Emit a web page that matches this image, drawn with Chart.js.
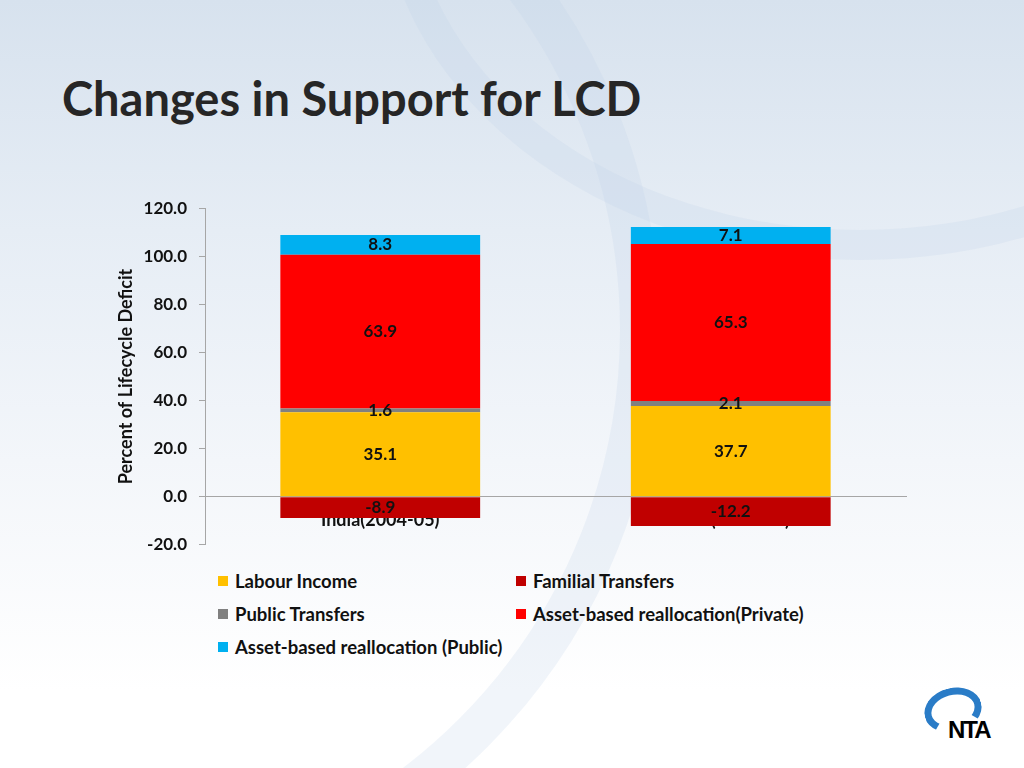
<!DOCTYPE html>
<html lang="en">
<head>
    <meta charset="UTF-8">
    <title>Changes in Support for LCD</title>
    <script src="https://cdn.jsdelivr.net/npm/chart.js"></script>
    <style>
        html, body {
            margin: 0;
            padding: 0;
        }
        body {
            width: 1024px;
            height: 768px;
            position: relative;
            overflow: hidden;
            font-family: Lato, "Open Sans", sans-serif;
            background: linear-gradient(to bottom, #d7e2ee 0%, #e6edf5 30%, #f3f6fa 60%, #ffffff 90%);
        }
        .swoosh {
            position: absolute;
            border-radius: 50%;
            border: 40px solid rgba(190, 210, 230, 0.22);
        }
        h1 {
            position: absolute;
            left: 62px;
            top: 70px;
            margin: 0;
            font-size: 47px;
            font-weight: bold;
            color: #262626;
        }
        #chartCanvas {
            position: absolute;
            left: 100px;
            top: 186px;
        }
        .legend {
            position: absolute;
            left: 218px;
            top: 570px;
            width: 640px;
            display: grid;
            grid-template-columns: 298px 340px;
            row-gap: 11px;
        }
        .legend-item {
            display: flex;
            align-items: center;
            height: 22px;
            font-size: 18.5px;
            font-weight: bold;
            color: #111;
            white-space: nowrap;
        }
        .legend-box {
            width: 10px;
            height: 10px;
            margin-right: 7px;
        }
        .logo {
            position: absolute;
            left: 918px;
            top: 686px;
            width: 70px;
            height: 60px;
        }
        .logo .loop {
            position: absolute;
            left: 6px;
            top: 2px;
            width: 44px;
            height: 30px;
            border: 7px solid #2a7cc7;
            border-bottom-color: transparent;
            border-radius: 50%;
            transform: rotate(-15deg);
        }
        .logo .txt {
            position: absolute;
            left: 30px;
            top: 30px;
            font-family: "Liberation Sans", sans-serif;
            font-size: 24px;
            font-weight: bold;
            letter-spacing: -2px;
            color: #000;
        }
    </style>
</head>
<body>
    <div class="swoosh" style="left:-520px; top:-260px; width:1100px; height:1100px;"></div>
    <div class="swoosh" style="left:380px; top:-500px; width:900px; height:700px; border-width:30px;"></div>

    <h1>Changes in Support for LCD</h1>
    <canvas id="chartCanvas" width="820" height="381"></canvas>
    <div class="legend" id="legend"></div>
    <div class="logo"><div class="loop"></div><div class="txt">NTA</div></div>

<script>
// データ
const categories = ['India(2004-05)', 'India(2011-12)'];
const seriesNames = [
    'Labour Income',
    'Familial Transfers',
    'Public Transfers',
    'Asset-based reallocation(Private)',
    'Asset-based reallocation (Public)'
];
const labourIncome = [35.1, 37.7];
const familialTransfers = [-8.9, -12.2];
const publicTransfers = [1.6, 2.1];
const assetPrivate = [63.9, 65.3];
const assetPublic = [8.3, 7.1];
const seriesColors = ['#FFC000', '#C00000', '#808080', '#FF0000', '#00B0F0'];
const yTicks = [-20, 0, 20, 40, 60, 80, 100, 120];

const seriesValues = [labourIncome, familialTransfers, publicTransfers, assetPrivate, assetPublic];
const FONT = 'Lato, "Open Sans", sans-serif';

// 棒の中央に値を描くプラグイン
const valueLabels = {
    id: 'valueLabels',
    afterDatasetsDraw(chart) {
        const ctx = chart.ctx;
        ctx.save();
        ctx.font = 'bold 17px ' + FONT;
        ctx.fillStyle = '#111';
        ctx.textAlign = 'center';
        ctx.textBaseline = 'middle';
        chart.data.datasets.forEach((ds, i) => {
            const meta = chart.getDatasetMeta(i);
            meta.data.forEach((bar, j) => {
                const p = bar.getProps(['x', 'y', 'base'], true);
                ctx.fillText(ds.data[j].toFixed(1), p.x, (p.y + p.base) / 2);
            });
        });
        ctx.restore();
    }
};

const ctx = document.getElementById('chartCanvas').getContext('2d');
const chart = new Chart(ctx, {
    type: 'bar',
    data: {
        labels: categories,
        datasets: seriesNames.map((name, i) => ({
            label: name,
            data: seriesValues[i],
            backgroundColor: seriesColors[i],
            borderWidth: 0,
            categoryPercentage: 1,
            barPercentage: 0.57
        }))
    },
    options: {
        responsive: false,
        animation: false,
        layout: {
            padding: { left: 0, top: 11, right: 14, bottom: 10 }
        },
        plugins: {
            legend: { display: false },
            tooltip: { enabled: false }
        },
        scales: {
            x: {
                stacked: true,
                position: { y: 0 },
                z: 1,
                grid: { display: false, drawTicks: false },
                border: { display: true, color: '#a6a6a6', width: 1 },
                ticks: {
                    color: '#111',
                    padding: 13,
                    font: { family: FONT, size: 18, weight: 'bold' }
                }
            },
            y: {
                stacked: true,
                min: yTicks[0],
                max: yTicks[yTicks.length - 1],
                afterBuildTicks: (scale) => {
                    scale.ticks = yTicks.map(v => ({ value: v }));
                },
                afterFit: (scale) => {
                    scale.width = 105;
                },
                grid: {
                    drawOnChartArea: false,
                    drawTicks: true,
                    tickLength: 6,
                    tickColor: '#a6a6a6'
                },
                border: { display: true, color: '#a6a6a6', width: 1 },
                ticks: {
                    color: '#111',
                    padding: 12,
                    font: { family: FONT, size: 17, weight: 'bold' },
                    callback: (v) => Number(v).toFixed(1)
                },
                title: {
                    display: true,
                    text: 'Percent of Lifecycle Deficit',
                    color: '#111',
                    padding: { top: 15, bottom: 0 },
                    font: { family: FONT, size: 18, weight: 'bold' }
                }
            }
        }
    },
    plugins: [valueLabels]
});

// 凡例（2列）
const legendEl = document.getElementById('legend');
seriesNames.forEach((name, i) => {
    const item = document.createElement('div');
    item.className = 'legend-item';
    item.innerHTML = `<span class="legend-box" style="background:${seriesColors[i]}"></span>${name}`;
    legendEl.appendChild(item);
});
</script>
</body>
</html>
